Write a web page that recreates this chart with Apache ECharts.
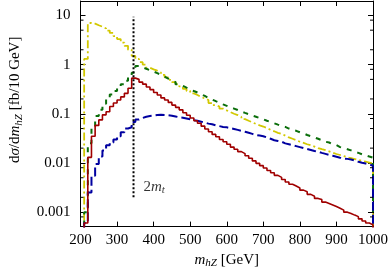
<!DOCTYPE html>
<html><head><meta charset="utf-8">
<script src="https://cdn.jsdelivr.net/npm/echarts@6/dist/echarts.min.js"></script>
<style>html,body{margin:0;padding:0;background:#fff}#c{width:391px;height:274px}</style>
</head><body><div id="c"></div>
<script>
// lower edges of the 10 GeV bins (GeV)
const binLow = [200,210,220,230,240,250,260,270,280,290,
  300,310,320,330,340,350,360,370,380,390,
  400,410,420,430,440,450,460,470,480,490,
  500,510,520,530,540,550,560,570,580,590,
  600,610,620,630,640,650,660,670,680,690,
  700,710,720,730,740,750,760,770,780,790,
  800,810,820,830,840,850,860,870,880,890,
  900,910,920,930,940,950,960,970,980,990];
const binHigh = 1000;

// dσ/dm_hZ [fb / 10 GeV]
const yellowVals = [0,1.3,7.0,6.8,6.3,5.9,5.4,4.9,4.4,3.8,
  3.3,2.8,2.4,2.0,1.5,1.3,1.12,1.0,0.86,0.80,
  0.75,0.69,0.62,0.55,0.49,0.44,0.40,0.36,0.32,0.29,
  0.26,0.24,0.22,0.205,0.19,0.165,0.15,0.14,0.127,0.117,
  0.108,0.10,0.094,0.086,0.078,0.072,0.067,0.062,0.058,0.055,
  0.051,0.047,0.044,0.041,0.039,0.036,0.033,0.031,0.029,0.027,
  0.0255,0.024,0.0228,0.0215,0.020,0.019,0.0182,0.0172,0.0162,0.0152,
  0.0145,0.0138,0.013,0.0125,0.012,0.0115,0.011,0.0106,0.0102,0.0098];
const greenVals = [0,0.001,0.025,0.055,0.09,0.12,0.16,0.20,0.245,0.29,
  0.34,0.40,0.47,0.55,0.68,0.93,0.88,0.82,0.77,0.72,
  0.67,0.62,0.57,0.52,0.48,0.44,0.40,0.37,0.34,0.315,
  0.29,0.27,0.25,0.23,0.21,0.195,0.18,0.168,0.155,0.145,
  0.135,0.127,0.119,0.111,0.104,0.098,0.092,0.087,0.082,0.077,
  0.072,0.068,0.064,0.060,0.057,0.054,0.050,0.047,0.045,0.042,
  0.040,0.037,0.035,0.033,0.031,0.029,0.027,0.026,0.024,0.023,
  0.021,0.020,0.019,0.018,0.017,0.016,0.015,0.0143,0.0135,0.0128];
const redVals = [0,0.0006,0.013,0.035,0.058,0.075,0.095,0.11,0.14,0.165,
  0.19,0.22,0.26,0.33,0.53,0.50,0.44,0.40,0.35,0.31,
  0.27,0.24,0.21,0.19,0.17,0.15,0.135,0.12,0.105,0.093,
  0.082,0.072,0.064,0.056,0.049,0.043,0.038,0.034,0.030,0.027,
  0.024,0.021,0.019,0.017,0.0155,0.014,0.0125,0.011,0.0098,0.0088,
  0.0079,0.0070,0.0063,0.0056,0.0051,0.0046,0.0041,0.0037,0.0034,0.0031,
  0.0028,0.0026,0.0023,0.0021,0.0019,0.0018,0.0016,0.0015,0.0014,0.0013,
  0.0012,0.0011,0.0010,0.00094,0.00087,0.00081,0.00073,0.00066,0.00060,0.00055];
const blueVals = [0,0.0006,0.0025,0.0055,0.0095,0.0135,0.018,0.023,0.026,0.030,
  0.035,0.042,0.050,0.053,0.068,0.076,0.082,0.087,0.090,0.092,
  0.094,0.095,0.094,0.093,0.091,0.088,0.085,0.083,0.080,0.077,
  0.074,0.072,0.069,0.066,0.063,0.061,0.058,0.056,0.054,0.053,
  0.051,0.049,0.047,0.045,0.043,0.041,0.039,0.037,0.036,0.035,
  0.033,0.031,0.029,0.028,0.027,0.025,0.024,0.023,0.022,0.021,
  0.020,0.0192,0.0184,0.0175,0.0168,0.016,0.0153,0.0146,0.014,0.0134,
  0.0128,0.0123,0.0121,0.0117,0.0112,0.0106,0.0101,0.0097,0.0093,0.0088];

// axis ranges and ticks
const xMin = 200, xMax = 1000, xStep = 100;
const yMin = 0.000508, yMax = 19.6;
const yMinorTicks = [0.0008,0.002,0.005,0.008,0.02,0.05,0.08,0.2,0.5,0.8,2,5,8];
// top-pair threshold marker
const thresholdMass = 345;
const thresholdLine = [0.002, 9.4];
const thresholdLabelAt = [372, 0.0033];

const FLOOR = 1e-7;
function stepData(vals) {
  const d = binLow.map((m, i) => [m, vals[i] > 0 ? vals[i] : FLOOR]);
  d.push([binHigh, FLOOR]);
  return d;
}

const SERIF = 'Liberation Serif';
const rich = {
  r: {fontFamily: SERIF, fontSize: 15, color: '#000'},
  i: {fontFamily: SERIF, fontSize: 15, fontStyle: 'italic', color: '#000'},
  s: {fontFamily: SERIF, fontSize: 11, fontStyle: 'italic', color: '#000', padding: [7, 0, 0, 0]}
};

const chart = echarts.init(document.getElementById('c'), null, {renderer: 'canvas'});

const histLine = (name, vals, color, type, width) => ({
  name, type: 'line', step: 'end', data: stepData(vals),
  showSymbol: false, symbol: 'none', clip: true,
  lineStyle: {color, type, width, cap: 'butt'}, z: 3
});

chart.setOption({
  animation: false,
  backgroundColor: '#fff',
  grid: {left: 76, right: 17, top: 1, bottom: 44, containLabel: false},
  xAxis: [{
    type: 'value', min: xMin, max: xMax, interval: xStep, position: 'bottom',
    axisLine: {lineStyle: {color: '#000', width: 1}},
    axisTick: {inside: true, length: 5, lineStyle: {color: '#000'}},
    axisLabel: {fontFamily: SERIF, fontSize: 15, color: '#000', margin: 6,
      formatter: v => String(v)},
    splitLine: {show: false},
    name: '{i|m}{s|hZ}{r| [GeV]}', nameLocation: 'middle', nameGap: 19,
    nameTextStyle: {rich}
  }, {
    type: 'value', min: xMin, max: xMax, interval: xStep, position: 'top',
    axisLine: {lineStyle: {color: '#000', width: 1}},
    axisTick: {inside: true, length: 5, lineStyle: {color: '#000'}},
    axisLabel: {show: false}, splitLine: {show: false}
  }],
  yAxis: [{
    type: 'log', logBase: 10, min: yMin, max: yMax, position: 'left',
    axisLine: {lineStyle: {color: '#000', width: 1}},
    axisTick: {inside: true, length: 5, lineStyle: {color: '#000'}},
    axisLabel: {fontFamily: SERIF, fontSize: 15, color: '#000', margin: 10,
      showMinLabel: false, showMaxLabel: false,
      formatter: v => String(+(+v).toPrecision(2))},
    splitLine: {show: false},
    name: '{r|d}{i|σ}{r|/d}{i|m}{s|hZ}{r| [fb/10 GeV]}', nameLocation: 'middle',
    nameRotate: 90, nameGap: 56,
    nameTextStyle: {rich, padding: [0, 0, 0, 28]}
  }, {
    type: 'log', logBase: 10, min: yMin, max: yMax, position: 'right',
    axisLine: {lineStyle: {color: '#000', width: 1}},
    axisTick: {inside: true, length: 5, lineStyle: {color: '#000'}},
    axisLabel: {show: false}, splitLine: {show: false}
  }],
  series: [
    {
      type: 'custom', name: 'minorTicks', xAxisIndex: 0, yAxisIndex: 0,
      data: yMinorTicks.map(v => [xMin, v]), silent: true, z: 5,
      renderItem: (params, api) => {
        const v = api.value(1);
        const l = api.coord([xMin, v]);
        const r = api.coord([xMax, v]);
        const st = {stroke: '#000', lineWidth: 1};
        return {type: 'group', children: [
          {type: 'line', shape: {x1: l[0], y1: l[1], x2: l[0] + 3, y2: l[1]}, style: st},
          {type: 'line', shape: {x1: r[0] - 3, y1: r[1], x2: r[0], y2: r[1]}, style: st}
        ]};
      }
    },
    histLine('yellow', yellowVals, '#d2c800', [8, 3, 2, 3], 1.8),
    histLine('green', greenVals, '#0a6e0a', [5, 6], 2),
    histLine('blue', blueVals, '#0000a0', [9, 4], 2),
    histLine('red', redVals, '#a00000', 'solid', 1.6),
    {
      type: 'line', name: 'threshold', showSymbol: false, symbol: 'none',
      data: thresholdLine.map(v => [thresholdMass, v]),
      lineStyle: {color: '#000', type: [2, 2], width: 2}, z: 4
    },
    {
      type: 'scatter', name: 'label', symbolSize: 0, data: [thresholdLabelAt],
      label: {show: true, position: [0, 0], align: 'left', verticalAlign: 'middle',
        formatter: '{r|2}{i|m}{s|t}', rich}, z: 6
    }
  ]
});
</script></body></html>
